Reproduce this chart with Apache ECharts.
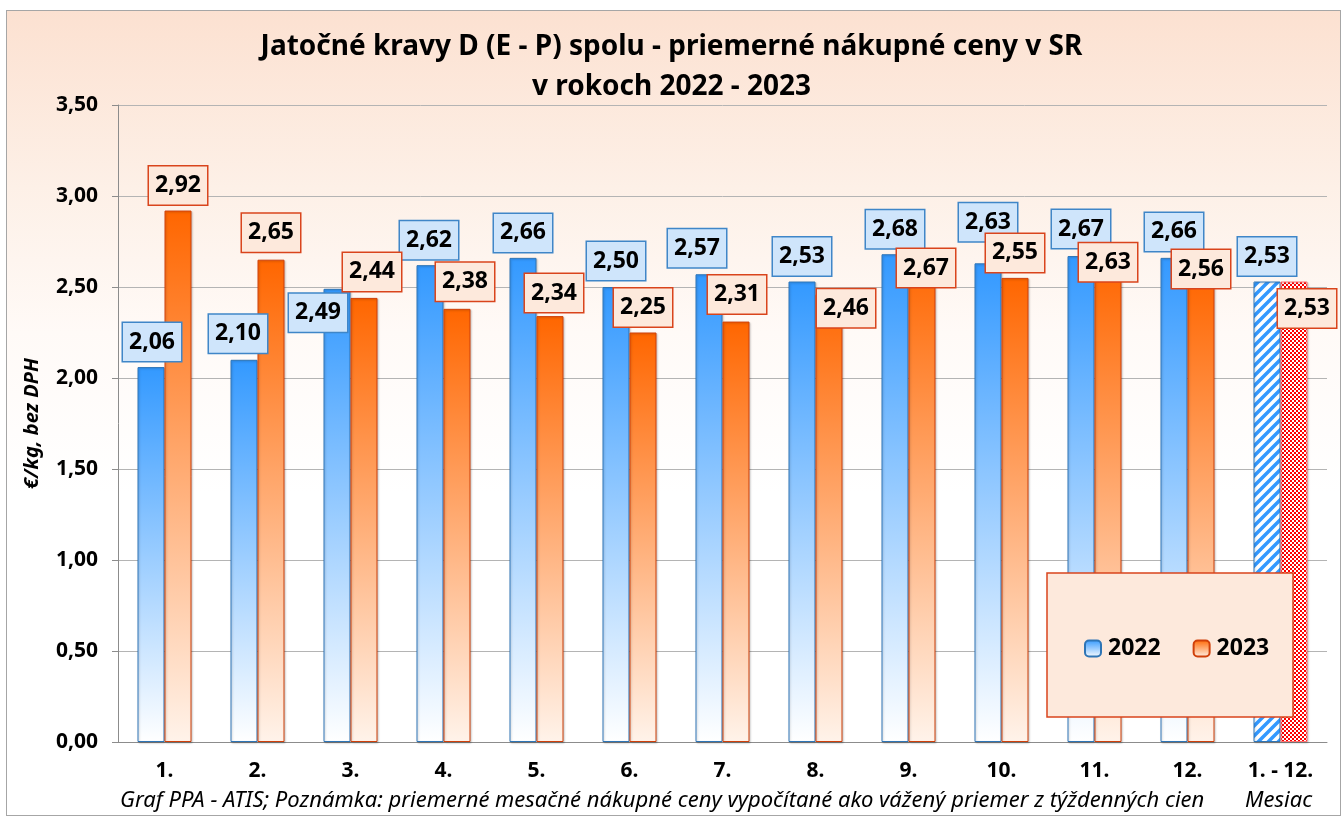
<!DOCTYPE html>
<html>
<head>
<meta charset="utf-8">
<script src="https://cdn.jsdelivr.net/npm/echarts@6/dist/echarts.min.js"></script>
<style>
html, body { margin: 0; padding: 0; background: #ffffff; }
#frame {
  position: absolute; left: 6px; top: 10px; width: 1333px; height: 804px;
  border: 1px solid #a6a6a6;
  background: linear-gradient(to bottom, #fce1d1 0%, #fdf0e7 22%, #fffaf7 40%, #ffffff 60%);
}
#chart { position: absolute; left: 0; top: 0; width: 1343px; height: 817px; }
</style>
</head>
<body>
<div id="frame"></div>
<div id="chart"></div>
<script>
// data
var months = ['1.', '2.', '3.', '4.', '5.', '6.', '7.', '8.', '9.', '10.', '11.', '12.', '1. - 12.'];
var prices2022 = [2.06, 2.10, 2.49, 2.62, 2.66, 2.50, 2.57, 2.53, 2.68, 2.63, 2.67, 2.66, 2.53];
var prices2023 = [2.92, 2.65, 2.44, 2.38, 2.34, 2.25, 2.31, 2.46, 2.67, 2.55, 2.63, 2.56, 2.53];

// label nudges (excel moved some labels to avoid overlaps)
var offs2022 = [[1,0],[-6,-1],[-19,49],[-1,0],[0,0],[0,-1],[-12,-1],[0,0],[0,0],[0,-16],[0,-2],[0,-1],[0,0]];
var offs2023 = [[0,0],[0,-2],[8,-1],[8,-2],[4,2],[0,0],[1,-2],[17,39],[4,37],[0,0],[0,24],[0,18],[13,52]];

var FONT = '"Noto Sans", "Open Sans", sans-serif';

function fmt(v) { return v.toFixed(2).replace('.', ','); }

function hatchPattern() {
  var c = document.createElement('canvas');
  c.width = 10; c.height = 10;
  var g = c.getContext('2d');
  g.fillStyle = '#ffffff';
  g.fillRect(0, 0, 10, 10);
  g.strokeStyle = '#3399ff';
  g.lineWidth = 3.5;
  g.beginPath();
  g.moveTo(-5, 5); g.lineTo(5, -5);
  g.moveTo(0, 10); g.lineTo(10, 0);
  g.moveTo(5, 15); g.lineTo(15, 5);
  g.stroke();
  return c;
}
function checkerPattern() {
  var c = document.createElement('canvas');
  c.width = 4; c.height = 4;
  var g = c.getContext('2d');
  g.fillStyle = '#ff0000';
  g.fillRect(0, 0, 4, 4);
  g.fillStyle = '#ffffff';
  g.fillRect(0, 0, 2, 2);
  g.fillRect(2, 2, 2, 2);
  return c;
}

var blueGrad = new echarts.graphic.LinearGradient(0, 0, 0, 1, [
  { offset: 0, color: '#3399ff' }, { offset: 1, color: '#ffffff' }
]);
var orangeGrad = new echarts.graphic.LinearGradient(0, 0, 0, 1, [
  { offset: 0, color: '#ff6600' }, { offset: 1, color: '#fff3ea' }
]);

function labelStyle(bg, border) {
  return {
    show: true,
    position: 'top',
    distance: 6,
    formatter: function (p) { return fmt(p.value); },
    fontFamily: FONT,
    fontWeight: 'bold',
    fontSize: 23,
    lineHeight: 24,
    color: '#000000',
    backgroundColor: bg,
    borderColor: border,
    borderWidth: 1.5,
    padding: [7, 6, 7, 6]
  };
}

var data2022 = prices2022.map(function (v, i) {
  var item = { value: v, label: { offset: offs2022[i] } };
  if (i === prices2022.length - 1) {
    item.itemStyle = { color: { image: hatchPattern(), repeat: 'repeat' }, borderColor: '#2e75b6' };
  }
  return item;
});
var data2023 = prices2023.map(function (v, i) {
  var item = { value: v, label: { offset: offs2023[i] } };
  if (i === prices2023.length - 1) {
    item.itemStyle = { color: { image: checkerPattern(), repeat: 'repeat' }, borderColor: '#ff7070' };
  }
  return item;
});

var chart = echarts.init(document.getElementById('chart'));
chart.setOption({
  backgroundColor: 'transparent',
  textStyle: { fontFamily: FONT },
  title: [{
    text: 'Jatočné kravy D (E - P) spolu - priemerné nákupné ceny v SR\nv rokoch 2022 - 2023',
    left: 'center',
    top: 22,
    textStyle: { fontFamily: FONT, fontWeight: 'bold', fontSize: 28, lineHeight: 40, color: '#000' }
  }, {
    text: 'Graf PPA - ATIS; Poznámka: priemerné mesačné nákupné ceny vypočítané ako vážený priemer z týždenných cien',
    left: 115,
    top: 785,
    textStyle: { fontFamily: FONT, fontWeight: 'normal', fontStyle: 'italic', fontSize: 22, color: '#000' }
  }, {
    text: 'Mesiac',
    left: 1240,
    top: 785,
    textStyle: { fontFamily: FONT, fontWeight: 'normal', fontStyle: 'italic', fontSize: 22, color: '#000' }
  }],
  grid: { left: 118, right: 16, top: 105, bottom: 75, containLabel: false },
  legend: {
    left: 1079,
    top: 632,
    z: 60,
    itemWidth: 16,
    itemHeight: 16,
    itemGap: 32,
    textStyle: { fontFamily: FONT, fontWeight: 'bold', fontSize: 23, color: '#000', padding: [0, 0, 0, 2] },
    data: ['2022', '2023']
  },
  graphic: [{
    type: 'rect',
    z: 50,
    shape: { x: 1047, y: 573, width: 246, height: 144 },
    style: { fill: '#fde9dc', stroke: '#d9441c', lineWidth: 1.5 }
  }],
  xAxis: {
    type: 'category',
    data: months,
    axisLine: { lineStyle: { color: '#8c8c8c', width: 1 } },
    axisTick: { show: false },
    axisLabel: { fontFamily: FONT, fontWeight: 'bold', fontSize: 21, color: '#000', margin: 19, interval: 0 }
  },
  yAxis: {
    type: 'value',
    min: 0,
    max: 3.5,
    interval: 0.5,
    name: '€/kg, bez DPH',
    nameLocation: 'middle',
    nameGap: 76,
    nameTextStyle: { fontFamily: FONT, fontWeight: 'bold', fontStyle: 'italic', fontSize: 20, color: '#000' },
    axisLine: { show: true, lineStyle: { color: '#8c8c8c', width: 1 } },
    axisTick: { show: true, length: 6, lineStyle: { color: '#8c8c8c' } },
    splitLine: { lineStyle: { color: '#b4b4b4', width: 1 } },
    axisLabel: {
      fontFamily: FONT, fontWeight: 'bold', fontSize: 21, color: '#000', margin: 20,
      formatter: function (v) { return fmt(v); }
    }
  },
  series: [{
    name: '2022',
    type: 'bar',
    barWidth: 27,
    barGap: '0%',
    itemStyle: { color: blueGrad, borderColor: '#2e75b6', borderWidth: 1, shadowColor: 'rgba(0,0,0,0.2)', shadowBlur: 2, shadowOffsetX: 1, shadowOffsetY: 1 },
    label: labelStyle('#cfe5fb', '#3f86c8'),
    data: data2022
  }, {
    name: '2023',
    type: 'bar',
    barWidth: 27,
    itemStyle: { color: orangeGrad, borderColor: '#d0400a', borderWidth: 1, shadowColor: 'rgba(0,0,0,0.2)', shadowBlur: 2, shadowOffsetX: 1, shadowOffsetY: 1 },
    label: labelStyle('#fde9dc', '#d9441c'),
    data: data2023
  }]
});
</script>
</body>
</html>
